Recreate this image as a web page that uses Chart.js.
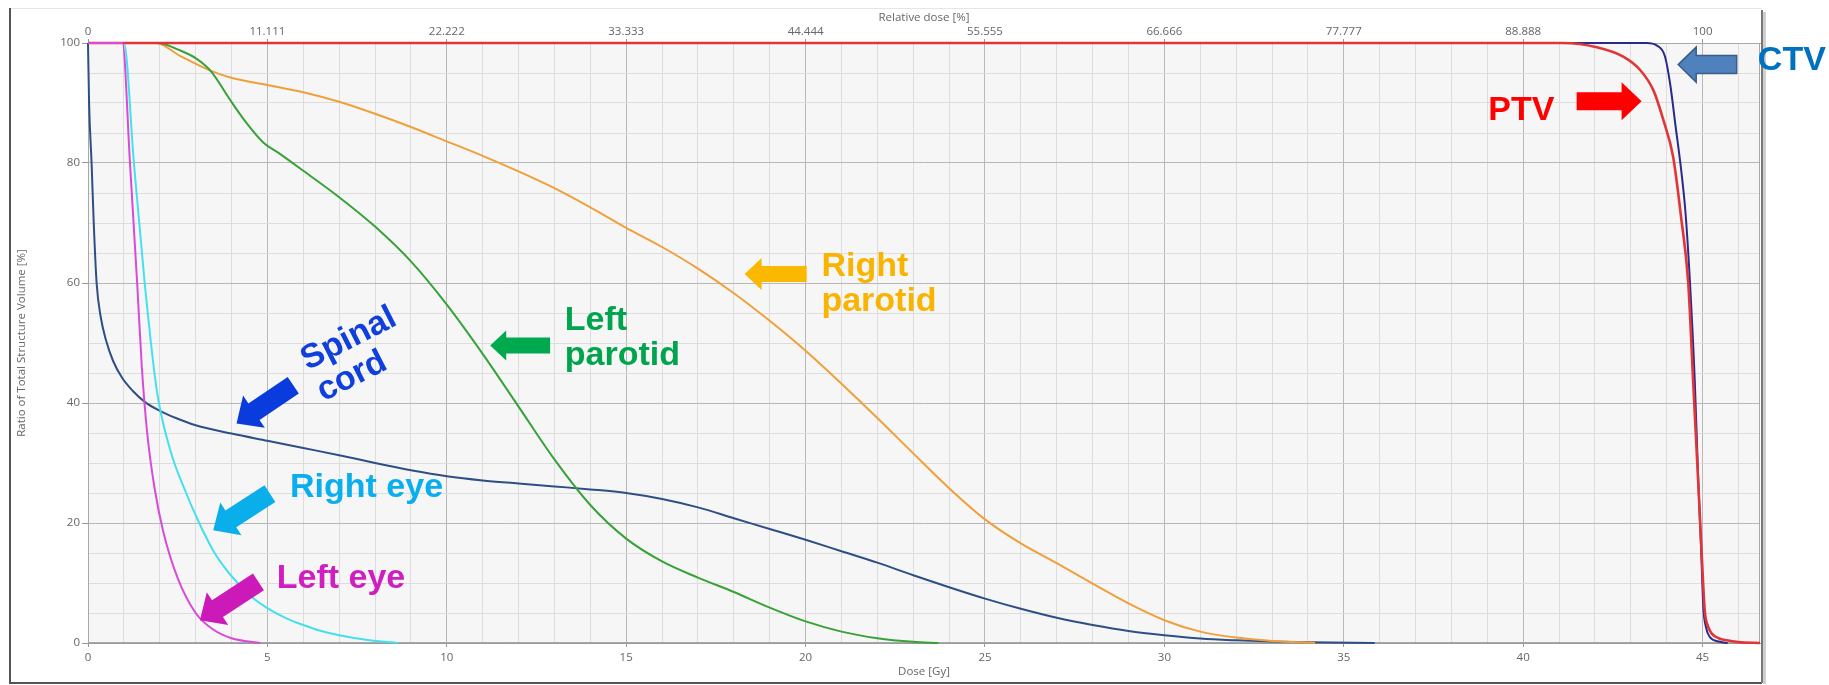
<!DOCTYPE html>
<html><head><meta charset="utf-8">
<script src="https://cdn.jsdelivr.net/npm/chart.js@4.4.1/dist/chart.umd.min.js"></script>
<style>html,body{margin:0;padding:0;background:#fff;overflow:hidden}canvas{display:block}</style>
</head><body>
<canvas id="c" width="1829" height="685" style="width:1829px;height:685px"></canvas>
<script>
// ---- data (dose in Gy, volume in %) ----
const leftEyeDose  = [0, 0.96, 1.17, 1.37, 1.5, 1.65, 1.85, 2.1, 2.5, 3.0, 3.5, 4.0, 4.8];
const leftEyeVol   = [100, 100, 80, 60, 46, 35, 26, 18.5, 10.8, 5.0, 2.2, 0.8, 0];
const ptvDose      = [0, 41.1, 42.05, 42.8, 43.26, 43.63, 43.91, 44.18, 44.4, 44.6, 44.74, 44.88, 44.97, 45.06, 45.15, 45.25, 45.45, 45.67, 46.0, 46.6];
const ptvVol       = [100, 100, 99.3, 97.7, 95.5, 92.1, 87.1, 81, 71, 60, 43.2, 26.6, 15.5, 5.4, 2.8, 1.6, 0.8, 0.45, 0.15, 0];
const ctvDose      = [0, 43.44, 43.72, 43.95, 44.1, 44.25, 44.4, 44.52, 44.64, 44.78, 44.88, 44.96, 45.02, 45.1, 45.2, 45.48, 45.7];
const ctvVol       = [100, 100, 99.6, 97.8, 93, 86, 79, 72, 61, 44, 27, 15.5, 6, 2.5, 1.0, 0.2, 0];
const rightEyeDose = [0, 1.0, 1.28, 1.58, 1.92, 2.3, 2.7, 3.1, 3.5, 3.95, 4.5, 5.0, 5.5, 6.0, 6.5, 7.0, 7.8, 8.64];
const rightEyeVol  = [100, 100, 80, 60, 42, 32, 25.5, 20, 15.3, 11.5, 8.0, 5.8, 4.2, 3.0, 2.0, 1.3, 0.5, 0];
const leftParDose  = [0, 1.95, 2.55, 3.02, 3.44, 3.94, 4.4, 4.87, 5.33, 6, 7, 8, 9, 10, 11, 12, 13, 14, 15, 16, 17, 18, 19, 20, 21, 22, 23, 23.7];
const leftParVol   = [100, 100, 98.8, 97.4, 95.2, 90.7, 86.8, 83.5, 81.6, 78.7, 74.3, 69.4, 63.6, 56.4, 48.2, 39.4, 30.6, 23.0, 17.4, 13.6, 10.9, 8.5, 5.9, 3.6, 1.9, 0.8, 0.2, 0];
const rightParDose = [0, 1.9, 2.55, 3.3, 3.94, 5, 6, 7, 8, 9, 10, 11, 12, 13, 14, 15, 16, 17, 18, 19, 20, 21, 22, 23, 24, 25, 26, 27, 28, 29, 30, 31, 32, 33, 34.2];
const rightParVol  = [100, 100, 97.9, 95.7, 94.3, 93.0, 91.8, 90.2, 88.2, 86.0, 83.6, 81.2, 78.6, 75.8, 72.6, 69.2, 66.0, 62.4, 58.3, 53.7, 48.7, 43.2, 37.5, 31.6, 25.8, 20.6, 16.6, 13.3, 9.9, 6.6, 3.8, 1.9, 0.9, 0.35, 0];
const spinalDose   = [0, 0.03, 0.1, 0.16, 0.24, 0.35, 0.5, 0.7, 0.95, 1.25, 1.6, 2.0, 2.45, 3, 4, 5, 6, 7, 8, 9, 10, 11, 12, 13, 14, 15, 16, 17, 18, 19, 20, 21, 22, 23, 24, 25, 26, 27, 28, 29, 30, 31, 32, 33, 34, 35.86];
const spinalVol    = [100, 90, 80, 70, 60, 54.5, 50.5, 47, 44.2, 42, 40.1, 38.7, 37.5, 36.3, 34.9, 33.7, 32.5, 31.3, 30.0, 28.8, 27.8, 27.1, 26.6, 26.1, 25.6, 25.0, 24.0, 22.6, 20.8, 19.0, 17.2, 15.3, 13.4, 11.3, 9.3, 7.4, 5.7, 4.2, 3.0, 2.0, 1.3, 0.75, 0.45, 0.25, 0.12, 0];

const relDoseTickLabels = ['0','11.111','22.222','33.333','44.444','55.555','66.666','77.777','88.888','100'];
const doseMax = 46.6;

function pts(d, v){ return d.map((x,i)=>({x:x, y:v[i]})); }

const seriesDefs = [
  {label:'Left eye',      d:leftEyeDose,  v:leftEyeVol,  color:'#d84ad8', w:2},
  {label:'PTV',           d:ptvDose,      v:ptvVol,      color:'#e0363a', w:2.6},
  {label:'CTV',           d:ctvDose,      v:ctvVol,      color:'#2a2a8a', w:2},
  {label:'Right eye',     d:rightEyeDose, v:rightEyeVol, color:'#45e0ee', w:2},
  {label:'Left parotid',  d:leftParDose,  v:leftParVol,  color:'#38a238', w:2},
  {label:'Right parotid', d:rightParDose, v:rightParVol, color:'#f0a03a', w:2},
  {label:'Spinal cord',   d:spinalDose,   v:spinalVol,   color:'#2e4f85', w:2}
];

// annotations (anchors in data units)
const annotations = [
  {arrow:[45.95,96.4, 44.32,96.4], sw:18, hw:35, hl:18, fill:'#4f81bd', stroke:'#385d8a',
   text:['CTV'], at:[46.54,97.1], align:'left', color:'#0070c0'},
  {arrow:[41.49,90.3, 43.3,90.3], sw:18, hw:38, hl:20, fill:'#ff0000',
   text:['PTV'], at:[39.95,88.8], align:'center', color:'#ff0000'},
  {arrow:[20.03,61.5, 18.3,61.5], sw:16, hw:32, hl:17, fill:'#fbb800',
   text:['Right','parotid'], at:[20.44,62.7], align:'left', color:'#f8b400'},
  {arrow:[12.88,49.6, 11.21,49.6], sw:16, hw:30, hl:16, fill:'#00a84e',
   text:['Left','parotid'], at:[13.29,53.8], align:'left', color:'#00a44c'},
  {arrow:[5.72,42.95, 4.14,36.6], sw:20, hw:39, hl:21, fill:'#0a3bdc',
   text:['Spinal','cord'], at:[6.12,45.4], align:'left', baseline:'alphabetic', color:'#0f3fdc', rot:-27},
  {arrow:[5.07,24.9, 3.49,18.8], sw:20, hw:39, hl:21, fill:'#0aaeea',
   text:['Right eye'], at:[5.63,25.9], align:'left', color:'#08aeee'},
  {arrow:[4.75,10.2, 3.12,3.8], sw:20, hw:39, hl:21, fill:'#cc1ab8',
   text:['Left eye'], at:[5.26,10.8], align:'left', color:'#cf1fc0'}
];

function drawArrow(ctx, x1,y1,x2,y2, sw,hw,hl, fill, stroke){
  const dx=x2-x1, dy=y2-y1, L=Math.hypot(dx,dy), ux=dx/L, uy=dy/L, nx=-uy, ny=ux;
  const bx=x2-ux*hl, by=y2-uy*hl;
  ctx.beginPath();
  ctx.moveTo(x1+nx*sw/2, y1+ny*sw/2);
  ctx.lineTo(bx+nx*sw/2, by+ny*sw/2);
  ctx.lineTo(bx+nx*hw/2, by+ny*hw/2);
  ctx.lineTo(x2,y2);
  ctx.lineTo(bx-nx*hw/2, by-ny*hw/2);
  ctx.lineTo(bx-nx*sw/2, by-ny*sw/2);
  ctx.lineTo(x1-nx*sw/2, y1-ny*sw/2);
  ctx.closePath();
  ctx.fillStyle=fill; ctx.fill();
  if(stroke){ ctx.strokeStyle=stroke; ctx.lineWidth=1.5; ctx.stroke(); }
}

const panelPlugin = {
  id:'panel',
  beforeDraw(chart){
    const {ctx, chartArea:a} = chart;
    ctx.save();
    ctx.fillStyle='#fff'; ctx.fillRect(0,0,chart.width,chart.height);
    ctx.strokeStyle='#e6e6e6'; ctx.lineWidth=1;
    ctx.beginPath(); ctx.moveTo(10,8.5); ctx.lineTo(1762,8.5); ctx.stroke();
    ctx.strokeStyle='#d0d0d0'; ctx.lineWidth=3;
    ctx.beginPath(); ctx.moveTo(1764.5,12); ctx.lineTo(1764.5,684); ctx.stroke();
    ctx.strokeStyle='#555'; ctx.lineWidth=2;
    ctx.beginPath(); ctx.moveTo(10,8); ctx.lineTo(10,683); ctx.lineTo(1762,683); ctx.stroke();
    ctx.strokeStyle='#777';
    ctx.beginPath(); ctx.moveTo(1762,10); ctx.lineTo(1762,683); ctx.stroke();
    ctx.fillStyle='#f6f6f6';
    ctx.fillRect(a.left,a.top,a.right-a.left,a.bottom-a.top);
    ctx.restore();
  },
  beforeDatasetsDraw(chart){
    const {ctx, chartArea:a} = chart;
    ctx.save();
    ctx.strokeStyle='#a8a8a8'; ctx.lineWidth=1;
    ctx.strokeRect(a.left+0.5,a.top+0.5,a.right-a.left-1,a.bottom-a.top-1);
    ctx.restore();
  },
  afterDraw(chart){
    const {ctx} = chart;
    const xs=chart.scales.x, ys=chart.scales.y;
    const px=v=>xs.getPixelForValue(v), py=v=>ys.getPixelForValue(v);
    ctx.save();
    annotations.forEach(an=>{
      const [a1,b1,a2,b2]=an.arrow;
      drawArrow(ctx, px(a1),py(b1),px(a2),py(b2), an.sw,an.hw,an.hl, an.fill, an.stroke);
      ctx.save();
      ctx.font='bold 34px "Liberation Sans", Arial, sans-serif';
      ctx.fillStyle=an.color; ctx.textAlign=an.align; ctx.textBaseline=an.baseline||'middle';
      ctx.translate(px(an.at[0]), py(an.at[1]));
      if(an.rot) ctx.rotate(an.rot*Math.PI/180);
      an.text.forEach((t,i)=>ctx.fillText(t,0,i*35));
      ctx.restore();
    });
    ctx.restore();
  }
};

const tickFont = {family:'"Open Sans", "Noto Sans", sans-serif', size:11.5};
const isMajX = c => c.tick && Math.abs(c.tick.value % 5) < 1e-6;
const isMajY = c => c.tick && Math.abs(c.tick.value % 20) < 1e-6;

new Chart(document.getElementById('c'), {
  type:'line',
  data:{ datasets: seriesDefs.map(s=>({
    label:s.label, data:pts(s.d,s.v), borderColor:s.color, backgroundColor:s.color,
    borderWidth:s.w, pointRadius:0, fill:false, cubicInterpolationMode:'monotone',
    clip:false, xAxisID:'x', yAxisID:'y'
  }))},
  options:{
    responsive:false, animation:false, devicePixelRatio:1,
    layout:{padding:{left:0,right:69,top:0,bottom:0}},
    plugins:{legend:{display:false}, tooltip:{enabled:false}},
    scales:{
      x:{type:'linear', position:'bottom', min:0, max:doseMax,
        afterFit(s){ s.height=42; },
        ticks:{stepSize:1, autoSkip:false, includeBounds:false, maxRotation:0, padding:4,
          color:'#666', font:tickFont, callback:v=> Math.abs(v%5)<1e-6 ? String(v) : ''},
        grid:{color:c=> isMajX(c)?'#b8b8b8':'#dddddd', lineWidth:1, tickLength:4,
          tickColor:c=> isMajX(c)?'#999':'rgba(0,0,0,0)'},
        border:{color:'#999'},
        title:{display:true, text:'Dose [Gy]', color:'#666', font:tickFont, padding:{top:0,bottom:6}}
      },
      xTop:{type:'linear', position:'top', min:0, max:doseMax,
        afterFit(s){ s.height=43; },
        ticks:{stepSize:5, autoSkip:false, includeBounds:false, maxRotation:0, padding:0,
          color:'#666', font:tickFont, callback:v=> relDoseTickLabels[Math.round(v/5)] ?? ''},
        grid:{drawOnChartArea:false, tickLength:4, color:'#999'},
        border:{color:'#a8a8a8'},
        title:{display:true, text:'Relative dose [%]', color:'#666', font:tickFont, padding:{top:11,bottom:0}}
      },
      y:{type:'linear', position:'left', min:0, max:100,
        afterFit(s){ s.width=88; },
        ticks:{stepSize:5, autoSkip:false, includeBounds:false, padding:2,
          color:'#666', font:tickFont, callback:v=> Math.abs(v%20)<1e-6 ? String(v) : ''},
        grid:{color:c=> isMajY(c)?'#b8b8b8':'#dddddd', lineWidth:1, tickLength:6,
          tickColor:c=> isMajY(c)?'#999':'rgba(0,0,0,0)'},
        border:{color:'#999'},
        title:{display:true, text:'Ratio of Total Structure Volume [%]', color:'#666', font:tickFont, padding:{top:15,bottom:0}}
      }
    }
  },
  plugins:[panelPlugin]
});
</script>
</body></html>
